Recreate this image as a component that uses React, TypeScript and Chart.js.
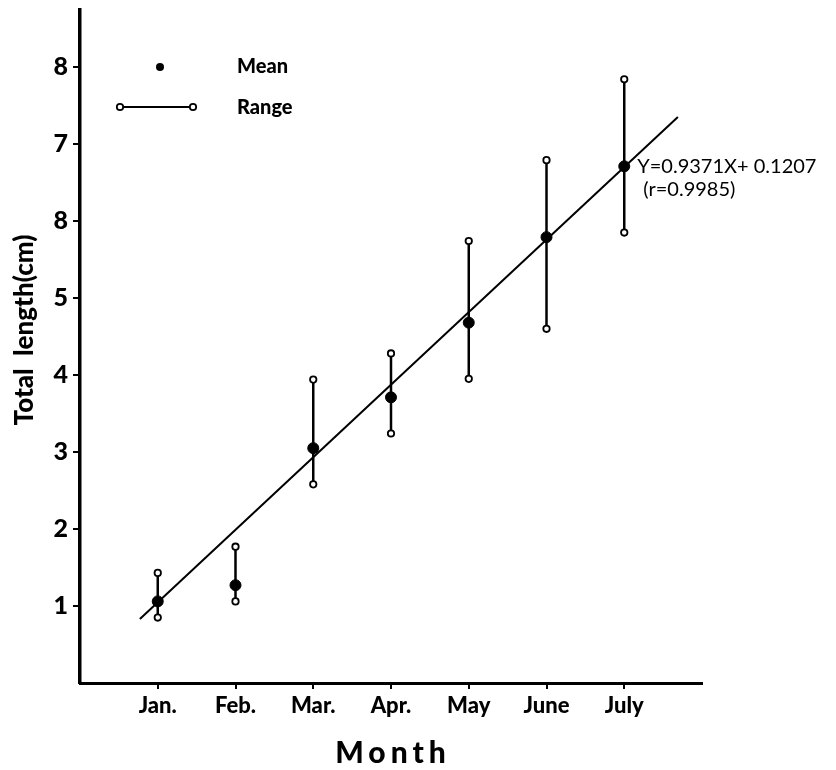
import React, { useEffect, useRef } from "react";
import { Chart, registerables } from "chart.js";

Chart.register(...registerables);

const months = ["Jan.", "Feb.", "Mar.", "Apr.", "May", "June", "July"];
const monthX = [1, 2, 3, 4, 5, 6, 7];
const meanValues = [1.06, 1.27, 3.05, 3.71, 4.68, 5.79, 6.71];
const rangeMax = [1.43, 1.77, 3.94, 4.28, 5.74, 6.79, 7.84];
const rangeMin = [0.85, 1.06, 2.58, 3.24, 3.95, 4.6, 5.85];
const fitX = [0.77, 7.69];
const fitY = [0.83, 7.35];
const yTickValues = [1, 2, 3, 4, 5, 6, 7, 8];
const yTickLabels = ["1", "2", "3", "4", "5", "8", "7", "8"];
const equationLines = ["Y=0.9371X+ 0.1207", "(r=0.9985)"];
const legendLabels = ["Mean", "Range"];
const xTitle = "Month";
const yTitle = "Total  length(cm)";

const FONT = "Lato, 'DejaVu Sans', sans-serif";

const textPlugin = {
  id: "textPlugin",
  afterDraw(chart: any) {
    const ctx = chart.ctx;
    const area = chart.chartArea;
    const xs = chart.scales.x;
    const ys = chart.scales.y;
    ctx.save();
    ctx.fillStyle = "#000";
    ctx.strokeStyle = "#000";

    // Legend
    const lx = area.left;
    ctx.beginPath();
    ctx.arc(lx + 80, 67, 4, 0, Math.PI * 2);
    ctx.fill();
    ctx.lineWidth = 1.8;
    ctx.beginPath();
    ctx.moveTo(lx + 40, 107);
    ctx.lineTo(lx + 113, 107);
    ctx.stroke();
    [lx + 40, lx + 113].forEach((cx) => {
      ctx.beginPath();
      ctx.arc(cx, 107, 3.2, 0, Math.PI * 2);
      ctx.fillStyle = "#fff";
      ctx.fill();
      ctx.lineWidth = 1.8;
      ctx.stroke();
    });
    ctx.fillStyle = "#000";
    ctx.font = `900 20px ${FONT}`;
    ctx.textAlign = "left";
    ctx.textBaseline = "middle";
    ctx.fillText(legendLabels[0], lx + 157, 67);
    ctx.fillText(legendLabels[1], lx + 157, 108);

    // Equation
    const ex = xs.getPixelForValue(monthX[6]) + 13;
    const ey = ys.getPixelForValue(meanValues[6]);
    ctx.font = `20px ${FONT}`;
    ctx.fillText(equationLines[0], ex, ey);
    ctx.fillText(equationLines[1], ex + 6, ey + 23);

    // X title
    ctx.font = `900 30px ${FONT}`;
    (ctx as any).letterSpacing = "5px";
    ctx.textAlign = "center";
    ctx.fillText(xTitle, (area.left + area.right) / 2 + 2, 753);
    (ctx as any).letterSpacing = "0px";

    // Y title
    ctx.save();
    ctx.translate(25, 330);
    ctx.rotate(-Math.PI / 2);
    ctx.font = `900 26px ${FONT}`;
    ctx.textAlign = "center";
    ctx.fillText(yTitle, 0, 0);
    ctx.restore();

    ctx.restore();
  },
};

export default function App() {
  const ref = useRef<HTMLCanvasElement | null>(null);
  useEffect(() => {
    document.body.style.margin = "0";
    let chart: Chart | null = null;
    let cancelled = false;
    const make = () => {
      if (cancelled || !ref.current) return;
      const rangeSets = monthX.map((x, i) => ({
        type: "line" as const,
        data: [
          { x, y: rangeMin[i] },
          { x, y: rangeMax[i] },
        ],
        borderColor: "#000",
        borderWidth: 2.5,
        pointRadius: 3.2,
        pointBackgroundColor: "#fff",
        pointBorderColor: "#000",
        pointBorderWidth: 1.8,
        order: 2,
      }));
      chart = new Chart(ref.current, {
        type: "scatter",
        data: {
          datasets: [
            {
              type: "scatter",
              data: monthX.map((x, i) => ({ x, y: meanValues[i] })),
              pointRadius: 5.5,
              pointBackgroundColor: "#000",
              pointBorderColor: "#000",
              order: 0,
            },
            {
              type: "line",
              data: fitX.map((x, i) => ({ x, y: fitY[i] })),
              borderColor: "#000",
              borderWidth: 2,
              pointRadius: 0,
              order: 1,
            },
            ...rangeSets,
          ] as any,
        },
        options: {
          animation: false,
          responsive: false,
          layout: { padding: { top: 10, right: 134, left: 0, bottom: 0 } },
          plugins: { legend: { display: false }, tooltip: { enabled: false } },
          scales: {
            x: {
              type: "linear",
              min: 0,
              max: 8,
              afterFit: (s: any) => {
                s.height = 87;
                s.paddingLeft = 0;
                s.paddingRight = 0;
              },
              afterBuildTicks: (s: any) => {
                s.ticks = monthX.map((v) => ({ value: v }));
              },
              ticks: {
                callback: (v: any) => {
                  const i = monthX.indexOf(Number(v));
                  return i >= 0 ? months[i] : "";
                },
                color: "#000",
                font: { family: FONT, size: 22, weight: "900" },
                padding: 4,
                maxRotation: 0,
                autoSkip: false,
              },
              grid: {
                drawOnChartArea: false,
                drawTicks: true,
                tickLength: 6,
                color: "#000",
                lineWidth: 2,
              },
              border: { display: true, color: "#000", width: 3 },
            },
            y: {
              type: "linear",
              min: 0,
              max: 8.74,
              afterFit: (s: any) => {
                s.width = 80;
                s.paddingTop = 0;
                s.paddingBottom = 0;
              },
              afterBuildTicks: (s: any) => {
                s.ticks = yTickValues.map((v) => ({ value: v }));
              },
              ticks: {
                callback: (v: any) => {
                  const i = yTickValues.indexOf(Number(v));
                  return i >= 0 ? yTickLabels[i] : "";
                },
                color: "#000",
                font: { family: FONT, size: 25, weight: "900" },
                padding: 5,
                autoSkip: false,
              },
              grid: {
                drawOnChartArea: false,
                drawTicks: true,
                tickLength: 7,
                color: "#000",
                lineWidth: 2,
              },
              border: { display: true, color: "#000", width: 3.5 },
            },
          },
        },
        plugins: [textPlugin],
      });
    };
    const fontsReady = (document as any).fonts
      ? Promise.all([
          (document as any).fonts.load(`900 20px Lato`),
          (document as any).fonts.load(`bold 20px Lato`),
          (document as any).fonts.load(`20px Lato`),
        ]).catch(() => null)
      : Promise.resolve();
    fontsReady.then(make);
    return () => {
      cancelled = true;
      if (chart) chart.destroy();
    };
  }, []);
  return (
    <div style={{ width: 836, height: 770, background: "#fff" }}>
      <canvas ref={ref} width={836} height={770} style={{ display: "block" }} />
    </div>
  );
}
